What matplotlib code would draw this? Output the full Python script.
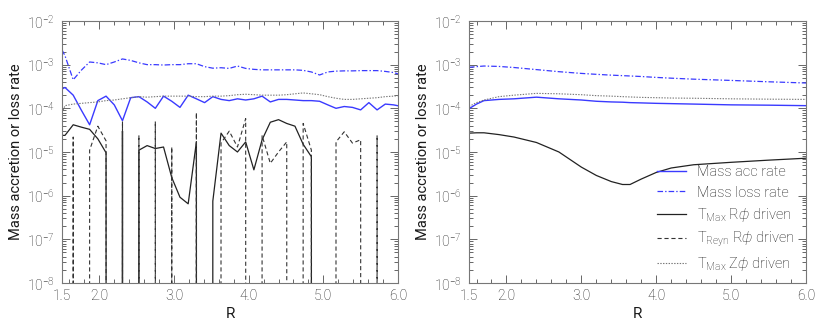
import numpy as np
import matplotlib
matplotlib.use("Agg")
import matplotlib.pyplot as plt
from matplotlib.ticker import FixedLocator, LogLocator, MultipleLocator, FormatStrFormatter

# radial grid of the simulation (left panel, single snapshot)
r_snap = [1.43, 1.54, 1.65, 1.76, 1.87, 1.98, 2.09, 2.20, 2.31, 2.42, 2.53,
          2.64, 2.75, 2.86, 2.97, 3.08, 3.19, 3.30, 3.41, 3.52, 3.63, 3.74,
          3.85, 3.96, 4.07, 4.18, 4.29, 4.40, 4.51, 4.62, 4.73, 4.84, 4.95,
          5.06, 5.17, 5.28, 5.39, 5.50, 5.61, 5.72, 5.83, 5.94, 6.05]

acc_snap = [2.4e-4, 3.0e-4, 2.0e-4, 9.0e-5, 4.2e-5, 1.5e-4, 1.9e-4, 1.2e-4, 5.2e-5, 1.75e-4, 1.85e-4,
            1.4e-4, 1.0e-4, 1.9e-4, 1.45e-4, 1.05e-4, 2.0e-4, 1.65e-4, 1.35e-4, 1.85e-4, 1.6e-4, 1.5e-4,
            1.65e-4, 1.55e-4, 1.65e-4, 1.9e-4, 1.4e-4, 1.6e-4, 1.6e-4, 1.55e-4, 1.5e-4, 1.5e-4, 1.45e-4,
            1.2e-4, 1.0e-4, 1.1e-4, 1.05e-4, 9.2e-5, 1.35e-4, 9.2e-5, 1.25e-4, 1.2e-4, 1.1e-4]

loss_snap = [3.7e-3, 1.6e-3, 4.5e-4, 7.5e-4, 1.15e-3, 1.1e-3, 1.0e-3, 1.15e-3, 1.35e-3, 1.25e-3, 1.1e-3,
             1.0e-3, 1.0e-3, 9.8e-4, 1.0e-3, 1.0e-3, 1.05e-3, 1.05e-3, 9.0e-4, 8.3e-4, 8.5e-4, 8.2e-4,
             9.3e-4, 8.2e-4, 7.8e-4, 7.6e-4, 7.6e-4, 7.6e-4, 7.6e-4, 7.6e-4, 7.4e-4, 6.8e-4, 5.8e-4,
             6.8e-4, 7.1e-4, 7.2e-4, 7.2e-4, 7.3e-4, 7.3e-4, 7.3e-4, 7.0e-4, 6.6e-4, 5.8e-4]

# zero = torque of the wrong sign, drops off the log axis
maxrp_snap = [2.4e-5, 2.4e-5, 4.2e-5, 3.7e-5, 3.3e-5, 2.0e-5, 9.6e-6, 0.0, 3.0e-5, 0.0, 1.1e-5,
              1.4e-5, 1.2e-5, 1.3e-5, 2.6e-6, 9.2e-7, 6.5e-7, 1.7e-5, 0.0, 7.5e-7, 2.7e-5, 1.4e-5,
              1.0e-5, 1.7e-5, 3.9e-6, 1.9e-5, 4.8e-5, 5.5e-5, 4.5e-5, 3.9e-5, 1.5e-5, 7.8e-6, 0.0,
              0.0, 0.0, 0.0, 0.0, 0.0, 0.0, 0.0, 0.0, 0.0, 0.0]

reyn_snap = [0.0, 0.0, 2.2e-5, 0.0, 1.1e-5, 3.9e-5, 1.8e-5, 0.0, 5.0e-5, 0.0, 2.4e-5,
             0.0, 5.0e-5, 0.0, 1.3e-5, 0.0, 0.0, 8.0e-5, 0.0, 0.0, 1.6e-5, 3.0e-5,
             1.3e-5, 5.8e-5, 0.0, 2.4e-5, 5.5e-6, 1.0e-5, 1.7e-5, 0.0, 4.5e-5, 1.1e-5, 0.0,
             0.0, 1.7e-5, 2.9e-5, 1.6e-5, 1.9e-5, 0.0, 2.4e-5, 0.0, 0.0, 0.0]

maxzp_snap = [4.0e-5, 1.15e-4, 1.25e-4, 1.3e-4, 1.35e-4, 1.4e-4, 1.5e-4, 1.55e-4, 1.65e-4, 1.75e-4, 1.85e-4,
              1.8e-4, 1.85e-4, 1.9e-4, 1.9e-4, 1.9e-4, 1.9e-4, 1.85e-4, 1.85e-4, 1.9e-4, 1.9e-4, 1.95e-4,
              2.05e-4, 2.1e-4, 2.05e-4, 2.0e-4, 2.0e-4, 2.0e-4, 2.05e-4, 2.15e-4, 2.25e-4, 2.15e-4, 2.05e-4,
              1.85e-4, 1.7e-4, 1.6e-4, 1.6e-4, 1.65e-4, 1.7e-4, 1.75e-4, 1.85e-4, 1.9e-4, 2.0e-4]

# right panel: time averaged profiles
r_avg = [1.5, 1.6, 1.7, 1.9, 2.1, 2.4, 2.7, 3.0, 3.2, 3.4, 3.55, 3.65, 3.8, 4.0, 4.2, 4.5, 5.0, 5.5, 6.0]
acc_avg = [9.8e-5, 1.25e-4, 1.5e-4, 1.6e-4, 1.65e-4, 1.8e-4, 1.65e-4, 1.55e-4, 1.45e-4, 1.4e-4,
           1.38e-4, 1.35e-4, 1.33e-4, 1.3e-4, 1.28e-4, 1.25e-4, 1.2e-4, 1.18e-4, 1.15e-4]
loss_avg = [8.7e-4, 9.0e-4, 9.3e-4, 9.1e-4, 8.6e-4, 7.7e-4, 6.9e-4, 6.3e-4, 6.0e-4, 5.75e-4,
            5.6e-4, 5.5e-4, 5.35e-4, 5.1e-4, 4.9e-4, 4.65e-4, 4.35e-4, 4.05e-4, 3.8e-4]
maxrp_avg = [2.7e-5, 2.75e-5, 2.75e-5, 2.5e-5, 2.2e-5, 1.65e-5, 1.0e-5, 4.5e-6, 2.9e-6, 2.1e-6,
             1.8e-6, 1.8e-6, 2.4e-6, 3.4e-6, 4.3e-6, 5.1e-6, 5.8e-6, 6.5e-6, 7.2e-6]
maxzp_avg = [1.1e-4, 1.35e-4, 1.55e-4, 1.85e-4, 2.0e-4, 2.2e-4, 2.15e-4, 2.05e-4, 1.95e-4, 1.9e-4,
             1.85e-4, 1.82e-4, 1.78e-4, 1.75e-4, 1.72e-4, 1.7e-4, 1.65e-4, 1.62e-4, 1.6e-4]

x_ticks = [1.5, 2.0, 3.0, 4.0, 5.0, 6.0]

plt.rcParams['font.family'] = ['Roboto', 'DejaVu Sans']
plt.rcParams['font.weight'] = 'light'
plt.rcParams['mathtext.fontset'] = 'custom'
plt.rcParams['mathtext.rm'] = 'Roboto:light'
plt.rcParams['mathtext.it'] = 'Roboto:italic:light'
plt.rcParams['axes.unicode_minus'] = False
plt.rcParams['lines.scale_dashes'] = False

TEXT = '#1a1a1a'
BLUE = '#3a3aff'

STYLE = {
    'acc':   dict(color=BLUE, lw=1.0, ls='-'),
    'loss':  dict(color=BLUE, lw=0.9, ls=(0, (4, 1.5, 1, 1.5))),
    'maxrp': dict(color='#222222', lw=0.9, ls='-'),
    'reyn':  dict(color='#333333', lw=0.8, ls=(0, (3, 2))),
    'maxzp': dict(color='#777777', lw=0.8, ls=(0, (1, 1))),
}


def style_axes(ax):
    ax.set_yscale('log', nonpositive='clip')
    ax.set_xlim(1.5, 6.0)
    ax.set_ylim(1e-8, 1e-2)
    ax.xaxis.set_major_locator(FixedLocator(x_ticks))
    ax.xaxis.set_major_formatter(FormatStrFormatter('%.1f'))
    ax.xaxis.set_minor_locator(MultipleLocator(0.2))
    ax.yaxis.set_major_locator(LogLocator(base=10, numticks=10))
    ax.yaxis.set_minor_locator(LogLocator(base=10, subs=np.arange(2, 10), numticks=20))
    ax.tick_params(which='both', direction='in', top=True, right=True,
                   color='#666666', width=0.7)
    ax.tick_params(which='major', length=6, labelsize=10, labelcolor=TEXT)
    ax.tick_params(which='minor', length=3)
    ax.tick_params(axis='x', pad=4)
    ax.tick_params(axis='y', pad=5)
    for sp in ax.spines.values():
        sp.set_color('#777777')
        sp.set_linewidth(0.8)
    ax.set_xlabel('R', fontsize=11, color=TEXT, labelpad=3)
    ax.set_ylabel('Mass accretion or loss rate', fontsize=10.5, color=TEXT, labelpad=3)


fig = plt.figure(figsize=(8.3, 3.33), dpi=100)
ax1 = fig.add_axes([0.0747, 0.1502, 0.4048, 0.7868])
ax2 = fig.add_axes([0.5651, 0.1502, 0.4060, 0.7868])

# Left: single snapshot
style_axes(ax1)
ax1.plot(r_snap, acc_snap, **STYLE['acc'])
ax1.plot(r_snap, loss_snap, **STYLE['loss'])
ax1.plot(r_snap, maxrp_snap, **STYLE['maxrp'])
ax1.plot(r_snap, reyn_snap, **STYLE['reyn'])
ax1.plot(r_snap, maxzp_snap, **STYLE['maxzp'])

# Right: time average (Reynolds term is negative everywhere, not drawn)
style_axes(ax2)
ax2.plot(r_avg, acc_avg, label='Mass acc rate', **STYLE['acc'])
ax2.plot(r_avg, loss_avg, label='Mass loss rate', **STYLE['loss'])
ax2.plot(r_avg, maxrp_avg, label=r'T$_{\rm Max}$ R$\phi$ driven', **STYLE['maxrp'])
ax2.plot([], [], label=r'T$_{\rm Reyn}$ R$\phi$ driven', **STYLE['reyn'])
ax2.plot(r_avg, maxzp_avg, label=r'T$_{\rm Max}$ Z$\phi$ driven', **STYLE['maxzp'])

leg = ax2.legend(loc='lower right', bbox_to_anchor=(0.985, 0.015), borderaxespad=0,
                 frameon=False, fontsize=10.5, handlelength=2.0, handletextpad=0.8,
                 labelspacing=0.42)
for t in leg.get_texts():
    t.set_color(TEXT)

fig.savefig('out.png', dpi=100)
